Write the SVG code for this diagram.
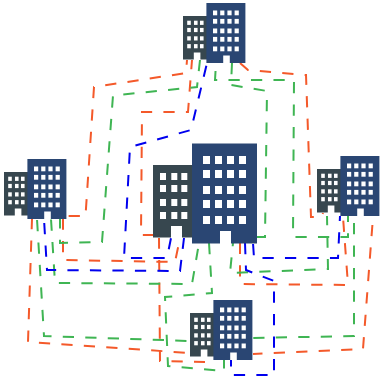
<svg xmlns="http://www.w3.org/2000/svg" width="381" height="379" viewBox="0 0 381 379">
<style>
.c{fill:none;stroke-width:2;stroke-dasharray:11.25 11.25}
.o{stroke:#f4592a}.g{stroke:#3fb553}.b{stroke:#0000ee}
.d{fill:#37474f}.n{fill:#2a4673}.w{fill:#fff}
</style>
<defs>
<g id="bld">
<path class="d" d="M0 21.5H40V94H29V82.500H18V94H0Z"/>
<path class="n" d="M39 0H104V100H78V87.500H67V100H39Z"/>
<g class="w">
<rect x="7" y="29.500" width="6" height="7"/><rect x="18.300" y="29.500" width="6" height="7"/><rect x="28.300" y="29.500" width="6" height="7"/>
<rect x="7" y="41.500" width="6" height="7"/><rect x="18.300" y="41.500" width="6" height="7"/><rect x="28.300" y="41.500" width="6" height="7"/>
<rect x="7" y="55.500" width="6" height="7"/><rect x="18.300" y="55.500" width="6" height="7"/><rect x="28.300" y="55.500" width="6" height="7"/>
<rect x="7" y="68.500" width="6" height="7"/><rect x="18.300" y="68.500" width="6" height="7"/><rect x="28.300" y="68.500" width="6" height="7"/>
<rect x="50" y="12.500" width="7" height="8"/><rect x="62" y="12.500" width="7" height="8"/><rect x="74" y="12.500" width="7" height="8"/><rect x="86" y="12.500" width="7" height="8"/>
<rect x="50" y="26.500" width="7" height="8"/><rect x="62" y="26.500" width="7" height="8"/><rect x="74" y="26.500" width="7" height="8"/><rect x="86" y="26.500" width="7" height="8"/>
<rect x="50" y="42.500" width="7" height="8"/><rect x="62" y="42.500" width="7" height="8"/><rect x="74" y="42.500" width="7" height="8"/><rect x="86" y="42.500" width="7" height="8"/>
<rect x="50" y="56.500" width="7" height="8"/><rect x="62" y="56.500" width="7" height="8"/><rect x="74" y="56.500" width="7" height="8"/><rect x="86" y="56.500" width="7" height="8"/>
<rect x="50" y="72.500" width="7" height="8"/><rect x="62" y="72.500" width="7" height="8"/><rect x="74" y="72.500" width="7" height="8"/><rect x="86" y="72.500" width="7" height="8"/>
</g>
</g>
</defs>
<g id="connectors">
<path class="c o" stroke-dashoffset="6.5" d="M187 60L186 73L94 87L85.500 216H63"/>
<path class="c o" stroke-dashoffset="2" d="M192 60L188 112H142L141 235H159"/>
<path class="c o" stroke-dashoffset="13.100" d="M180 238L175 262L63 260V219"/>
<path class="c o" stroke-dashoffset="1" d="M32 219L28 342L190 353"/>
<path class="c o" stroke-dashoffset="0.500" d="M159 238L160 361L205 362"/>
<path class="c o" d="M240 63L248 70L306 75L311 217H322L323 213"/>
<path class="c o" stroke-dashoffset="14.500" d="M373 217L363 349L253 354"/>
<path class="c o" stroke-dashoffset="18.800" d="M343 217L348 285L240 284V243"/>
<path class="c g" d="M200 60L197 87L113 95.500L102 242L60 243V219"/>
<path class="c g" stroke-dashoffset="21.500" d="M37 219L44 336L190 341"/>
<path class="c g" stroke-dashoffset="22" d="M51 219L55 283L192 284L199 243"/>
<path class="c g" d="M209 243L212 293L165 297L168 366L224 371V360"/>
<path class="c g" stroke-dashoffset="2" d="M327 216L328 269L230 273L233 243"/>
<path class="c g" d="M232 63L231 85L267 91L265 237H257"/>
<path class="c g" stroke-dashoffset="14.500" d="M216 63L215 80H294L293 237H348V216"/>
<path class="c g" stroke-dashoffset="15.500" d="M354 216V336L253 338"/>
<path class="c b" stroke-dashoffset="19.700" d="M207 63L191 130L130 147L124 258H167L171 238"/>
<path class="c b" stroke-dashoffset="18.500" d="M44 219L47 270L180 271L184 238"/>
<path class="c b" stroke-dashoffset="21.500" d="M253 243L254 258H338L340 216"/>
<path class="c b" d="M245 243L246 270L274 281V375H231V360"/>
</g>
<g id="node-top"><use href="#bld" transform="translate(183 3) scale(.6)"/></g>
<g id="node-left"><use href="#bld" transform="translate(4 159) scale(.6)"/></g>
<g id="node-center"><use href="#bld" transform="translate(153 143.500)"/></g>
<g id="node-right"><use href="#bld" transform="translate(317 156) scale(.6)"/></g>
<g id="node-bottom"><use href="#bld" transform="translate(190 300) scale(.6)"/></g>
</svg>
